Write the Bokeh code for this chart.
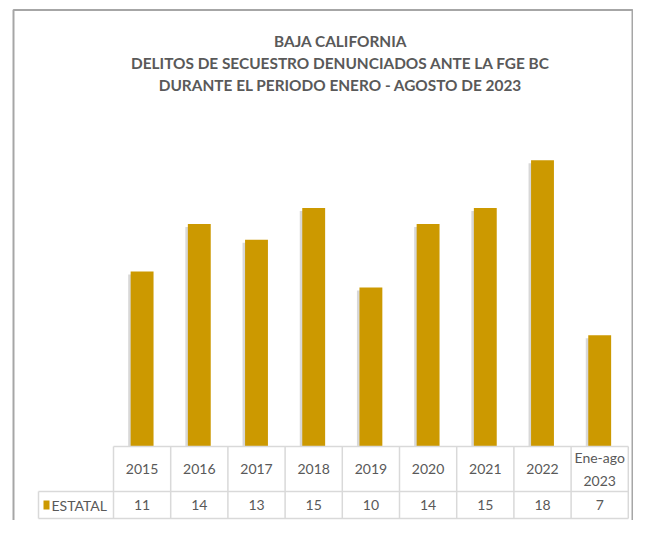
from bokeh.plotting import figure
from bokeh.models import Range1d, ColumnDataSource
from bokeh.core.properties import value
from bokeh.embed import file_html
from bokeh.resources import INLINE

# ---- data ----
categories = ["2015", "2016", "2017", "2018", "2019", "2020", "2021", "2022", "Ene-ago\n2023"]
estatal = [11, 14, 13, 15, 10, 14, 15, 18, 7]
series_name = "ESTATAL"
title_lines = [
    "BAJA CALIFORNIA",
    "DELITOS DE SECUESTRO DENUNCIADOS ANTE LA FGE BC",
    "DURANTE EL PERIODO ENERO - AGOSTO DE 2023",
]

# ---- layout (figure pixels) ----
W, H = 633, 520
TABLE_LEFT_PX = 113.0
COL_W = 57.2           # px per category
X0_PX = TABLE_LEFT_PX + COL_W / 2
BASE_PX = 446.0        # baseline px from top
UNIT = 15.9            # px per unit value
HDR_H = 45.0
ROW_H = 27.0
LABEL_LEFT_PX = 38.0

GOLD = "#CC9900"
TXT = "#595959"
GRID = "#D9D9D9"
FONT = "Lato"

x_start = -X0_PX / COL_W
x_end = x_start + W / COL_W
y_top = BASE_PX / UNIT
y_bot = -(H - BASE_PX) / UNIT

def dx(px):
    return x_start + px / COL_W

def dy(px):
    return (BASE_PX - px) / UNIT

p = figure(width=W, height=H, output_backend="svg", toolbar_location=None,
           x_range=Range1d(x_start, x_end), y_range=Range1d(y_bot, y_top),
           min_border=0, outline_line_color=None)
p.axis.visible = False
p.grid.visible = False
p.background_fill_color = "white"
p.border_fill_color = "white"

n = len(categories)
xs = list(range(n))

# outer border
p.line([dx(13), dx(13), dx(632), dx(632)], [dy(H + 5), dy(9.5), dy(9.5), dy(H + 5)],
       line_color="#A6A6A6", line_width=2)

# title
ty = [dy(40), dy(62), dy(84)]
p.text(x=[dx(340)] * 3, y=ty, text=title_lines, text_font=value(FONT),
       text_font_style="bold", text_font_size="15.4px", text_color=TXT,
       text_align="center", text_baseline="middle")

# bar shadows and bars
src = ColumnDataSource(dict(x=xs, top=estatal, cat=categories))
shadow_top = [v - 3 / UNIT for v in estatal]
p.vbar(x=[x - 2.5 / COL_W for x in xs], top=shadow_top, bottom=0, width=0.4,
       fill_color="#7f7f7f", fill_alpha=0.3, line_color=None)
p.vbar(x="x", top="top", bottom=0, width=0.4, source=src,
       fill_color=GOLD, line_color=None)

# table lines
y0 = 0
y1 = dy(BASE_PX + HDR_H)
y2 = dy(BASE_PX + HDR_H + ROW_H)
x_left = dx(LABEL_LEFT_PX)
vx = [k - 0.5 for k in range(n + 1)]
p.segment(x0=vx, y0=[y0] * len(vx), x1=vx, y1=[y2] * len(vx), line_color=GRID, line_width=1.5)
p.segment(x0=[-0.5, x_left, x_left, x_left], y0=[y0, y1, y2, y1],
          x1=[n - 0.5, n - 0.5, n - 0.5, x_left], y1=[y0, y1, y2, y2],
          line_color=GRID, line_width=1.5)

# header text
hy = (y0 + y1) / 2
p.text(x=xs, y=[hy] * n, text=categories, text_font=value(FONT),
       text_font_size="14px", text_color=TXT, text_align="center",
       text_baseline="middle", text_line_height=1.4)

# values
ry = (y1 + y2) / 2
p.text(x=xs, y=[ry] * n, text=[str(v) for v in estatal], text_font=value(FONT),
       text_font_size="14px", text_color=TXT, text_align="center",
       text_baseline="middle")

# series label with legend square
p.rect(x=[dx(46)], y=[ry], width=6, height=9, width_units="screen", height_units="screen",
       fill_color=GOLD, line_color=None)
p.text(x=[dx(51)], y=[ry], text=[series_name], text_font=value(FONT),
       text_font_size="14px", text_color=TXT, text_align="left",
       text_baseline="middle")

open("out.html", "w").write(file_html(p, INLINE))
